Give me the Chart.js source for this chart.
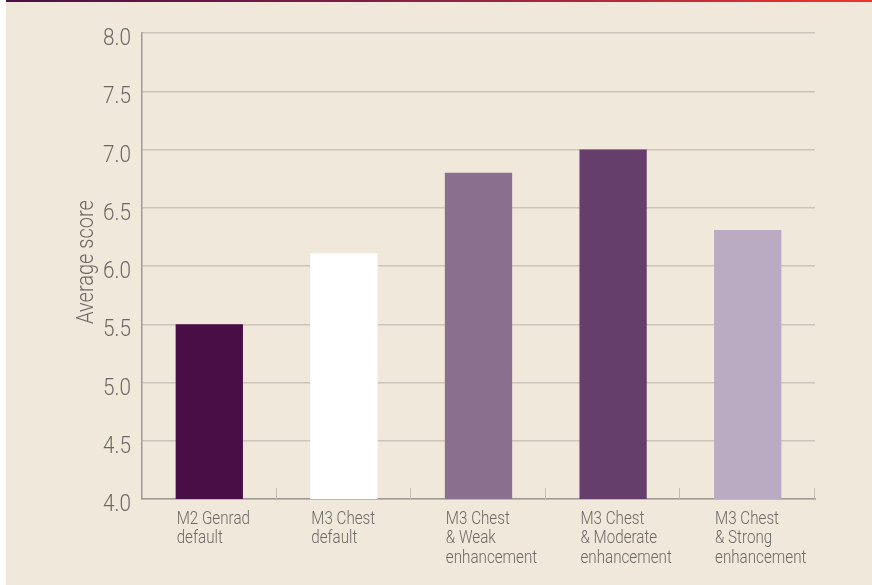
<!DOCTYPE html>
<html>
<head>
<meta charset="utf-8">
<script src="https://cdn.jsdelivr.net/npm/chart.js@4/dist/chart.umd.min.js"></script>
<style>
  html, body { margin: 0; padding: 0; background: #ffffff; }
  #wrap { width: 872px; height: 585px; }
</style>
</head>
<body>
<div id="wrap"><canvas id="myChart" width="872" height="585"></canvas></div>
<script>
// data
let categorias = [
    ['M2 Genrad', 'default'],
    ['M3 Chest', 'default'],
    ['M3 Chest', '& Weak', 'enhancement'],
    ['M3 Chest', '& Moderate', 'enhancement'],
    ['M3 Chest', '& Strong', 'enhancement']
];
let puntajes = [5.5, 6.11, 6.8, 7.0, 6.31];
let colores = ['#4a0e46', '#ffffff', '#8b6f8f', '#653e6b', '#baaac2'];
let tituloY = 'Average score';

let fuente = "Roboto, sans-serif";
let gris = '#6b6866';

// fondo y linea superior
const fondo = {
    id: 'fondo',
    beforeDraw(chart) {
        let c = chart.ctx;
        c.save();
        c.fillStyle = '#ffffff';
        c.fillRect(0, 0, chart.width, chart.height);
        c.fillStyle = '#f0e8da';
        c.fillRect(6, 0, chart.width - 6, chart.height);
        let g = c.createLinearGradient(6, 0, chart.width, 0);
        g.addColorStop(0, '#4a0e46');
        g.addColorStop(0.5, '#8a2248');
        g.addColorStop(1, '#f0342a');
        c.fillStyle = g;
        c.fillRect(6, 0, chart.width - 6, 2);
        c.restore();
    }
};

// texto estrecho: la fuente original es condensada
function textoEstrecho(c, txt, x, y, escala) {
    c.save();
    c.translate(x, y);
    c.scale(escala, 1);
    c.fillText(txt, 0, 0);
    c.restore();
}

// marcas del eje x, etiquetas y titulo
const textos = {
    id: 'textos',
    afterDraw(chart) {
        let c = chart.ctx;
        let x = chart.scales.x;
        let y = chart.scales.y;
        let area = chart.chartArea;
        let paso = (x.right - x.left) / categorias.length;
        c.save();
        c.strokeStyle = '#c4bdb6';
        c.lineWidth = 1;
        for (let i = 1; i <= categorias.length; i++) {
            let px = Math.round(x.left + paso * i) - 0.5;
            c.beginPath();
            c.moveTo(px, area.bottom);
            c.lineTo(px, area.bottom - 11);
            c.stroke();
        }
        c.fillStyle = gris;

        // etiquetas x, alineadas al borde izquierdo de cada barra
        let meta = chart.getDatasetMeta(0);
        c.font = '300 19px ' + fuente;
        c.textAlign = 'left';
        c.textBaseline = 'alphabetic';
        for (let i = 0; i < categorias.length; i++) {
            let barra = meta.data[i];
            let lx = barra.x - barra.width / 2 + 1;
            categorias[i].forEach((linea, j) => {
                textoEstrecho(c, linea, lx, area.bottom + 25 + j * 19.3, 0.8);
            });
        }

        // etiquetas y
        c.font = '300 23px ' + fuente;
        c.textAlign = 'right';
        y.ticks.forEach(t => {
            let py = y.getPixelForValue(t.value);
            textoEstrecho(c, t.value.toFixed(1), 131, py + 12, 0.9);
        });

        // titulo del eje y
        c.font = '300 23px ' + fuente;
        c.textAlign = 'center';
        c.save();
        c.translate(93, 262);
        c.rotate(-Math.PI / 2);
        c.scale(0.87, 1);
        c.fillText(tituloY, 0, 0);
        c.restore();
        c.restore();
    }
};

let ctx = document.getElementById('myChart').getContext('2d');
let myChart = new Chart(ctx, {
    type: 'bar',
    data: {
        labels: categorias,
        datasets: [{
            data: puntajes,
            backgroundColor: colores,
            borderWidth: 0,
            barPercentage: 0.5,
            categoryPercentage: 1
        }]
    },
    options: {
        responsive: false,
        animation: false,
        layout: { padding: { top: 33, right: 57, bottom: 0, left: 0 } },
        plugins: {
            legend: { display: false },
            tooltip: { enabled: false }
        },
        scales: {
            x: {
                grid: { display: false },
                border: { display: true, color: '#9e9a97', width: 1.5 },
                ticks: { display: false },
                afterFit(scale) { scale.height = 86; }
            },
            y: {
                min: 4,
                max: 8,
                ticks: { stepSize: 0.5, display: false },
                grid: { color: '#cdc3bb', lineWidth: 1.5, drawTicks: false },
                border: { display: true, color: '#9e9a97', width: 1.5 },
                afterFit(scale) { scale.width = 142; }
            }
        }
    },
    plugins: [fondo, textos]
});
</script>
</body>
</html>
